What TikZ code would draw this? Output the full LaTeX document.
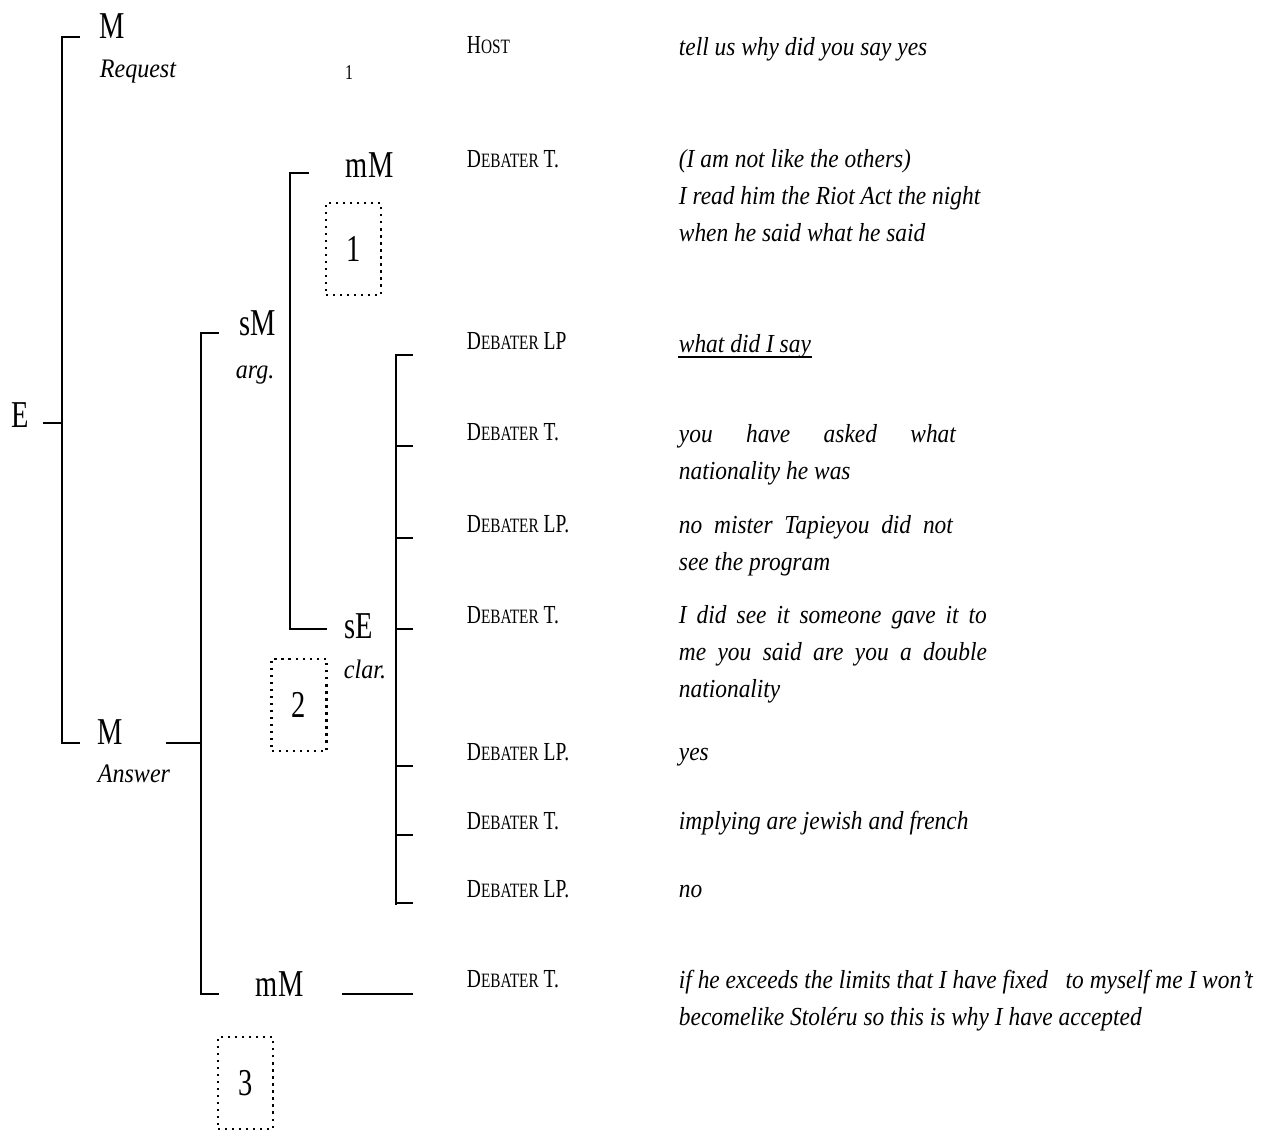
\documentclass[tikz,border=0pt]{standalone}
\usepackage{fontspec}
\setmainfont{Liberation Serif}
\newfontfamily\labfont[FakeStretch=0.75]{Liberation Serif}
\newfontfamily\uttfont[FakeStretch=0.9]{Liberation Serif}
\usetikzlibrary{calc}
\newcommand\spk[2]{#1{\fontsize{14.5}{14.5}\selectfont#2}}

\begin{document}
\begin{tikzpicture}[x=0.25mm, y=-0.25mm, line width=1.3pt,
  lab/.style={inner sep=0pt, anchor=base west, font=\labfont\fontsize{27}{27}\selectfont},
  sub/.style={inner sep=0pt, anchor=base west, font=\uttfont\itshape\fontsize{19}{19}\selectfont},
  who/.style={inner sep=0pt, anchor=base west, font=\labfont\fontsize{18.5}{26.3}\selectfont},
  said/.style={inner sep=0pt, anchor=base west, align=left, font=\uttfont\itshape\fontsize{18.5}{26.3}\selectfont},
  tag/.style={draw, line width=1.6pt, dash pattern=on 1.6pt off 3.4pt, inner sep=0pt,
    minimum width=13.75mm, minimum height=23mm, font=\labfont\fontsize{27}{27}\selectfont}]
  \useasboundingbox (0,0) rectangle (1278,1131);

  % Tree labels
  \node[lab] (E) at (11,427) {E};
  \node[lab] (Mreq) at (99,38) {M};
  \node[sub] (req) at (99,77) {Request};
  \node[inner sep=0pt, anchor=base, font=\labfont\fontsize{15}{15}\selectfont] (one) at (349,79) {1};
  \node[lab] (mM1) at (345,177) {mM};
  \node[lab] (sM) at (239,335) {sM};
  \node[sub] (arg) at (235,378) {arg.};
  \node[lab] (sE) at (344,638) {sE};
  \node[sub] (clar) at (343,678) {clar.};
  \node[lab] (Mans) at (97,744) {M};
  \node[sub] (ans) at (97,782) {Answer};
  \node[lab] (mM2) at (255,996) {mM};

  % Dotted boxes
  \node[tag] (box1) at (353.5,249) {1};
  \node[tag] (box2) at (299,705) {2};
  \node[tag] (box3) at (245.5,1083) {3};

  % Speakers
  \node[who] (s1) at (466,53) {\spk{H}{OST}};
  \node[who] (s2) at (466,167) {\spk{D}{EBATER} T.};
  \node[who] (s3) at (466,349) {\spk{D}{EBATER} LP};
  \node[who] (s4) at (466,440) {\spk{D}{EBATER} T.};
  \node[who] (s5) at (466,532) {\spk{D}{EBATER} LP.};
  \node[who] (s6) at (466,623) {\spk{D}{EBATER} T.};
  \node[who] (s7) at (466,760) {\spk{D}{EBATER} LP.};
  \node[who] (s8) at (466,829) {\spk{D}{EBATER} T.};
  \node[who] (s9) at (466,897) {\spk{D}{EBATER} LP.};
  \node[who] (s10) at (466,987) {\spk{D}{EBATER} T.};

  % Turns (multi-line ones sit on their last baseline)
  \node[said] (u1) at (678,55) {tell us why did you say yes};
  \node[said] (u2) at (678,241) {(I am not like the others)\\I read him the Riot Act the night\\when he said what he said};
  \node[said] (u3) at (678,352) {what did I say};
  \node[said] (u4) at (678,479) {\makebox[69.25mm][s]{you have asked what}\\nationality he was};
  \node[said] (u5) at (678,570) {\makebox[68.5mm][s]{no mister Tapieyou did not}\\see the program};
  \node[said] (u6) at (678,697) {\makebox[77mm][s]{I did see it someone gave it to}\\\makebox[77mm][s]{me you said are you a double}\\nationality};
  \node[said] (u7) at (678,760) {yes};
  \node[said] (u8) at (678,829) {implying are jewish and french};
  \node[said] (u9) at (678,897) {no};
  \node[said] (u10) at (678,1025) {if he exceeds the limits that I have fixed\ \ \ to myself me I won’t\\becomelike Stoléru so this is why I have accepted};
  \draw[line width=0.9pt] ($(u3.base west)+(0,5)$) -- ($(u3.base east)+(0,5)$);

  % Brackets
  \coordinate (eT) at (62,37);
  \coordinate (eB) at (62,743);
  \coordinate (eMid) at (62,423);
  \coordinate (aT) at (201,333);
  \coordinate (aB) at (201,994);
  \coordinate (aMid) at (201,743);
  \coordinate (gT) at (290,173);
  \coordinate (gB) at (290,629);
  \coordinate (cT) at (396,354);
  \coordinate (cB) at (396,905);
  \coordinate (mEnd) at (413,994);

  \draw ($(eT)+(18,0)$) -- (eT) -- (eB) -- ++(18,0);
  \draw (eMid) -- ++(-19,0);
  \draw ($(aT)+(18,0)$) -- (aT) -- (aB) -- ++(18,0);
  \draw (aMid) -- ++(-35,0);
  \draw ($(gT)+(19,0)$) -- (gT) -- (gB) -- ++(37,0);
  \draw (cT) -- (cB);
  \foreach \s in {s3,s4,s5,s6,s7,s8,s9}
    \draw ($(cT |- \s.base)+(0,6)$) -- ++(17,0);
  \draw (mEnd) -- ++(-71,0);
\end{tikzpicture}
\end{document}
